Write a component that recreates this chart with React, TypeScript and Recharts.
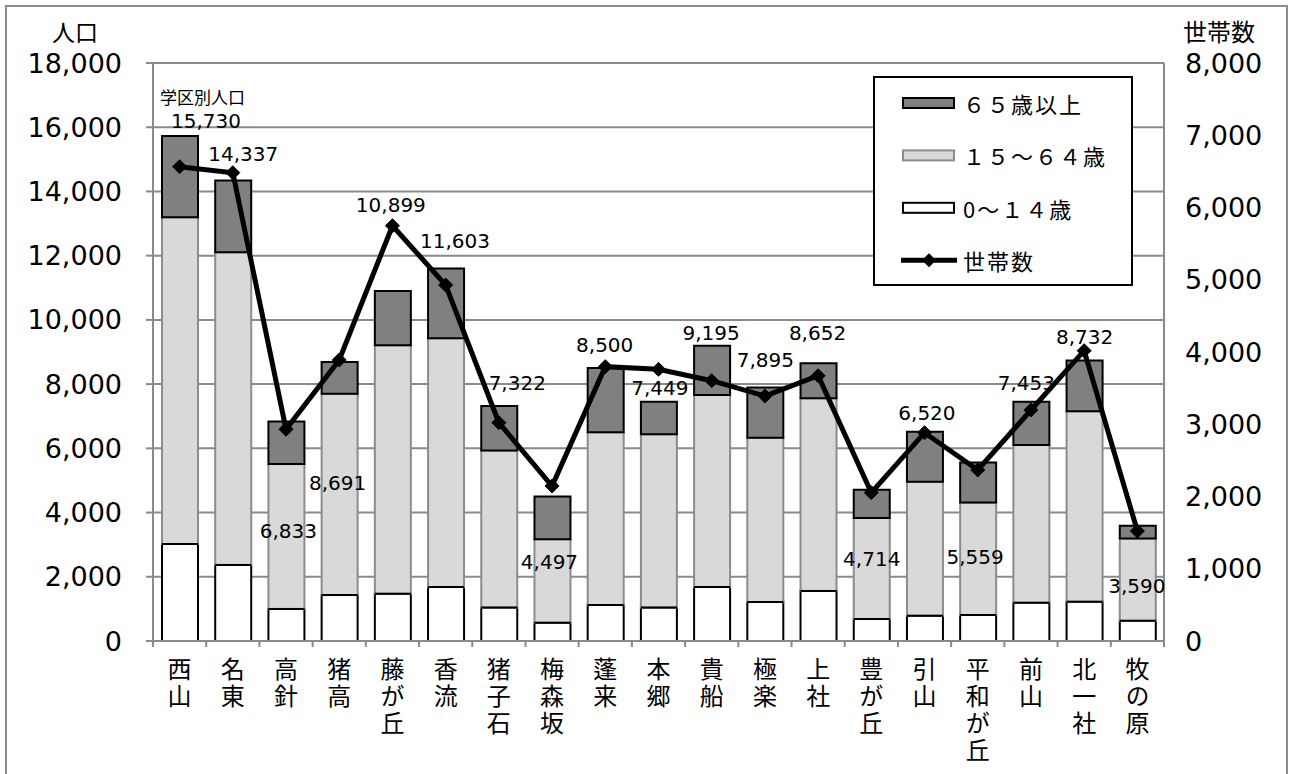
import React from 'react';
import {
  ComposedChart,
  Bar,
  Line,
  XAxis,
  YAxis,
  CartesianGrid,
  Legend,
  LabelList,
} from 'recharts';

const categories = ['西山', '名東', '高針', '猪高', '藤が丘', '香流', '猪子石', '梅森坂', '蓬来', '本郷', '貴船', '極楽', '上社', '豊が丘', '引山', '平和が丘', '前山', '北一社', '牧の原'];
const age0to14 = [3020, 2370, 1000, 1430, 1470, 1680, 1040, 570, 1120, 1040, 1680, 1215, 1560, 685, 790, 810, 1195, 1225, 630];
const age15to64 = [10175, 9735, 4510, 6270, 7740, 7750, 4890, 2600, 5380, 5400, 5980, 5115, 6000, 3145, 4170, 3500, 4910, 5930, 2565];
const age65plus = [2535, 2232, 1323, 991, 1689, 2173, 1392, 1327, 2000, 1009, 1535, 1565, 1092, 884, 1560, 1249, 1348, 1577, 395];
const totals = [15730, 14337, 6833, 8691, 10899, 11603, 7322, 4497, 8500, 7449, 9195, 7895, 8652, 4714, 6520, 5559, 7453, 8732, 3590];
const households = [6565, 6482, 2930, 3889, 5748, 4927, 3022, 2145, 3797, 3760, 3603, 3391, 3672, 2053, 2883, 2367, 3197, 4018, 1522];
const leftTicks = [0, 2000, 4000, 6000, 8000, 10000, 12000, 14000, 16000, 18000];
const rightTicks = [0, 1000, 2000, 3000, 4000, 5000, 6000, 7000, 8000];
const seriesNames = { a65: '６５歳以上', a15: '１５～６４歳', a0: '0～１４歳', hh: '世帯数' };

// label offsets (dx from bar centre, dy from bar top) for the total labels
const labelOffsets: [number, number][] = [
  [26, -15], [10, -27], [2, 109], [-2, 121], [-2, -86], [9, -27], [18, -23], [-3, 65], [-1, -23], [1, -14],
  [-1, -13], [0, -27], [-1, -30], [0, 69], [2, -19], [-3, 95], [-5, -19], [0, -24], [-1, 60],
];

const data = categories.map((name, i) => ({
  name,
  a0: age0to14[i],
  a15: age15to64[i],
  a65: age65plus[i],
  total: totals[i],
  households: households[i],
}));

const NUM_FONT = '"DejaVu Sans", "Noto Sans CJK JP", sans-serif';
const JP_FONT = '"Noto Sans CJK JP", sans-serif';
const GRID = '#8a8a8a';
const BAR_W = 36;

const fmt = (v: number) => v.toLocaleString('en-US');

const CatTick = (props: any) => {
  const { x, y, payload, index, width, visibleTicksCount } = props;
  const count = visibleTicksCount || categories.length;
  const band = (width || 1011) / count;
  return (
    <g>
      <line x1={x - band / 2} x2={x - band / 2} y1={y} y2={y + 6} stroke={GRID} strokeWidth={2} />
      {index === count - 1 && (
        <line x1={x + band / 2} x2={x + band / 2} y1={y} y2={y + 6} stroke={GRID} strokeWidth={2} />
      )}
      <text
        x={x}
        y={y + 16}
        fontSize={24}
        letterSpacing={3}
        fontFamily={JP_FONT}
        fill="#000"
        style={{ writingMode: 'vertical-rl' } as any}
      >
        {String(payload.value)}
      </text>
    </g>
  );
};

const Diamond = (props: any) => {
  const { cx, cy } = props;
  if (cx == null || cy == null) return null;
  const s = 7;
  return <polygon points={`${cx},${cy - s} ${cx + s},${cy} ${cx},${cy + s} ${cx - s},${cy}`} fill="#000" stroke="#000" strokeWidth={1} />;
};

const MidShape = (props: any) => {
  const { x, y, width, height } = props;
  if (x == null || height == null) return null;
  return (
    <g>
      <rect x={x} y={y} width={width} height={height} fill="#d9d9d9" stroke="#8c8c8c" strokeWidth={2} />
      <line x1={x} x2={x + width} y1={y + height} y2={y + height} stroke="#000" strokeWidth={2} />
    </g>
  );
};

const TotalLabel = (props: any) => {
  const vb = props.viewBox || {};
  const x = props.x ?? vb.x;
  const y = props.y ?? vb.y;
  const width = props.width ?? vb.width;
  let idx = props.index;
  if (idx == null || idx < 0) idx = totals.indexOf(Number(props.value));
  if (idx < 0 || x == null) return null;
  const [dx, dy] = labelOffsets[idx];
  const cx = x + width / 2;
  return (
    <g>
      {idx === 0 && (
        <text x={cx - 20} y={y - 39} dominantBaseline="central" fontSize={17} fontFamily={JP_FONT} fill="#000">
          学区別人口
        </text>
      )}
      <text x={cx + dx} y={y + dy} textAnchor="middle" dominantBaseline="central" fontSize={20} fontFamily={NUM_FONT} fill="#000">
        {fmt(totals[idx])}
      </text>
    </g>
  );
};

const LegendBox = () => {
  const rows = [
    { type: 'rect', fill: '#808080', stroke: '#000', label: seriesNames.a65 },
    { type: 'rect', fill: '#d9d9d9', stroke: '#8c8c8c', label: seriesNames.a15 },
    { type: 'rect', fill: '#ffffff', stroke: '#000', label: seriesNames.a0 },
    { type: 'line', fill: '#000', stroke: '#000', label: seriesNames.hh },
  ];
  return (
    <svg width={260} height={210} style={{ display: 'block' }}>
      <rect x={1} y={1} width={258} height={208} fill="#fff" stroke="#000" strokeWidth={2} />
      {rows.map((r, i) => {
        const cy = 27 + i * 52.4;
        return (
          <g key={i}>
            {r.type === 'rect' ? (
              <rect x={30} y={cy - 5} width={51} height={10} fill={r.fill} stroke={r.stroke} strokeWidth={2} />
            ) : (
              <g>
                <line x1={28} x2={84} y1={cy} y2={cy} stroke="#000" strokeWidth={5} />
                <polygon points={`56,${cy - 7} 63,${cy} 56,${cy + 7} 49,${cy}`} fill="#000" />
              </g>
            )}
            <text x={90} y={cy} dominantBaseline="central" fontSize={22} letterSpacing={2} fontFamily={JP_FONT} fill="#000">
              {r.label}
            </text>
          </g>
        );
      })}
    </svg>
  );
};

export default function App() {
  return (
    <div style={{ position: 'absolute', left: 0, top: 0, width: 1290, height: 774, overflow: 'hidden', background: '#fff' }}>
      <div
        style={{
          position: 'absolute',
          left: 5,
          top: 5,
          width: 1283,
          height: 820,
          border: '2px solid #8c8c8c',
          boxSizing: 'border-box',
        }}
      />
      <ComposedChart
        width={1290}
        height={774}
        data={data}
        margin={{ top: 63, right: 26, bottom: 13, left: 53 }}
      >
        <CartesianGrid yAxisId="left" vertical={false} stroke={GRID} strokeWidth={2} />
        <XAxis
          dataKey="name"
          height={120}
          interval={0}
          tickLine={false}
          tickSize={0}
          tickMargin={0}
          axisLine={{ stroke: GRID, strokeWidth: 2 }}
          tick={<CatTick />}
        />
        <YAxis
          yAxisId="left"
          orientation="left"
          width={100}
          domain={[0, 18000]}
          ticks={leftTicks}
          interval={0}
          tickFormatter={fmt}
          axisLine={{ stroke: GRID, strokeWidth: 2 }}
          tickLine={{ stroke: GRID, strokeWidth: 2 }}
          tickSize={7}
          tickMargin={24}
          tick={{ fontSize: 27, fontFamily: NUM_FONT, fill: '#000' }}
          label={{
            content: (p: any) => (
              <text x={(p.viewBox?.x ?? 53) - 1} y={(p.viewBox?.y ?? 63) - 32} dominantBaseline="central" fontSize={23} fontFamily={JP_FONT} fill="#000">
                人口
              </text>
            ),
          }}
        />
        <YAxis
          yAxisId="right"
          orientation="right"
          width={100}
          domain={[0, 8000]}
          ticks={rightTicks}
          interval={0}
          tickFormatter={fmt}
          axisLine={{ stroke: GRID, strokeWidth: 2 }}
          tickLine={false}
          tickSize={0}
          tickMargin={21}
          tick={{ fontSize: 27, fontFamily: NUM_FONT, fill: '#000' }}
          label={{
            content: (p: any) => (
              <text x={(p.viewBox?.x ?? 1164) + 19} y={(p.viewBox?.y ?? 63) - 33} dominantBaseline="central" fontSize={24} fontFamily={JP_FONT} fill="#000">
                世帯数
              </text>
            ),
          }}
        />
        <Bar yAxisId="left" dataKey="a0" name={seriesNames.a0} stackId="p" barSize={BAR_W} fill="#ffffff" stroke="#000" strokeWidth={2} isAnimationActive={false} />
        <Bar yAxisId="left" dataKey="a15" name={seriesNames.a15} stackId="p" barSize={BAR_W} fill="#d9d9d9" shape={<MidShape />} isAnimationActive={false} />
        <Bar yAxisId="left" dataKey="a65" name={seriesNames.a65} stackId="p" barSize={BAR_W} fill="#808080" stroke="#000" strokeWidth={2} isAnimationActive={false}>
          <LabelList dataKey="total" content={<TotalLabel />} />
        </Bar>
        <Line
          yAxisId="right"
          type="linear"
          dataKey="households"
          name={seriesNames.hh}
          stroke="#000"
          strokeWidth={5}
          dot={<Diamond />}
          activeDot={false}
          isAnimationActive={false}
        />
        <Legend
          layout="vertical"
          align="center"
          verticalAlign="middle"
          content={<LegendBox />}
          wrapperStyle={{ position: 'absolute', left: 873, top: 76, width: 260, height: 210 }}
        />
      </ComposedChart>
    </div>
  );
}
